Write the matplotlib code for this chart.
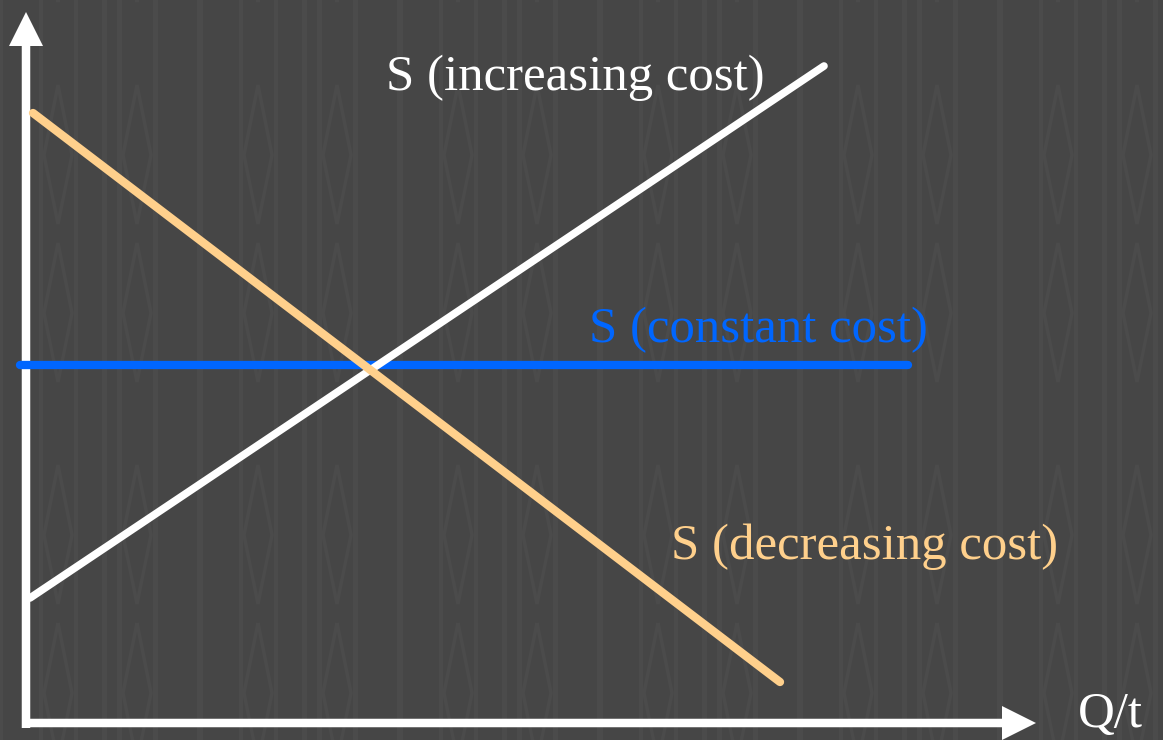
import matplotlib
matplotlib.use("Agg")
import matplotlib.pyplot as plt
from matplotlib.patches import Rectangle, Polygon

# long-run supply curves: (Q, P) end points
q_increasing = [0.04, 7.98]
p_increasing = [1.25, 6.57]
q_decreasing = [0.07, 7.54]
p_decreasing = [6.10, 0.41]
q_constant = [-0.06, 8.82]
p_constant = [3.58, 3.58]

labels = ["S (increasing cost)", "S (constant cost)", "S (decreasing cost)"]
label_pos = [(3.60, 6.45), (5.63, 3.93), (6.45, 1.76)]
colors = ["#FFFFFF", "#0066FF", "#FFD08C"]
axis_label = "Q/t"

BG = "#464646"
STRIPE = "#4B4B4B"
W, H = 1163, 740

fig = plt.figure(figsize=(W / 100, H / 100), dpi=100, facecolor=BG)

# background: faint stripes and diamonds, in pixel units
bg = fig.add_axes([0, 0, 1, 1])
bg.set_xlim(0, W)
bg.set_ylim(H, 0)
bg.axis("off")
bg.set_facecolor(BG)
stripes = [(0, 6), (41, 4), (76, 4), (104, 5), (119, 5), (155, 5)]
for base in range(0, W + 200, 200):
    for sx, sw in stripes:
        bg.add_patch(Rectangle((base + sx - sw / 2, 0), sw, H, color=STRIPE, lw=0))
    for cx in (base + 58, base + 137):
        for top in (-295, -137, 85, 243, 465, 623):
            pts = [(cx, top), (cx + 14, top + 70), (cx, top + 139), (cx - 14, top + 70)]
            bg.add_patch(Polygon(pts, closed=True, fill=False, ec=STRIPE, lw=2.5))

ax = fig.add_axes([0, 0, 1, 1])
ax.set_xlim(-0.26, 11.37)
ax.set_ylim(-0.17, 7.23)
ax.axis("off")
ax.patch.set_alpha(0)

# axes with arrow heads
ax.arrow(0, -0.05, 0, 6.82, width=0.085, head_width=0.34, head_length=0.34,
         length_includes_head=False, color="white", lw=0)
ax.arrow(-0.04, 0, 9.80, 0, width=0.085, head_width=0.34, head_length=0.34,
         length_includes_head=False, color="white", lw=0)

ax.plot(q_constant, p_constant, color=colors[1], lw=6, solid_capstyle="round")
ax.plot(q_increasing, p_increasing, color=colors[0], lw=5.5, solid_capstyle="round")
ax.plot(q_decreasing, p_decreasing, color=colors[2], lw=6, solid_capstyle="round")

for text, (x, y), c in zip(labels, label_pos, colors):
    ax.text(x, y, text, color=c, fontsize=36.6, family="Liberation Serif",
            ha="left", va="center")
ax.text(10.52, 0.08, axis_label, color="white", fontsize=36.6,
        family="Liberation Serif", ha="left", va="center")

fig.savefig("out.png", dpi=100, facecolor=BG)
